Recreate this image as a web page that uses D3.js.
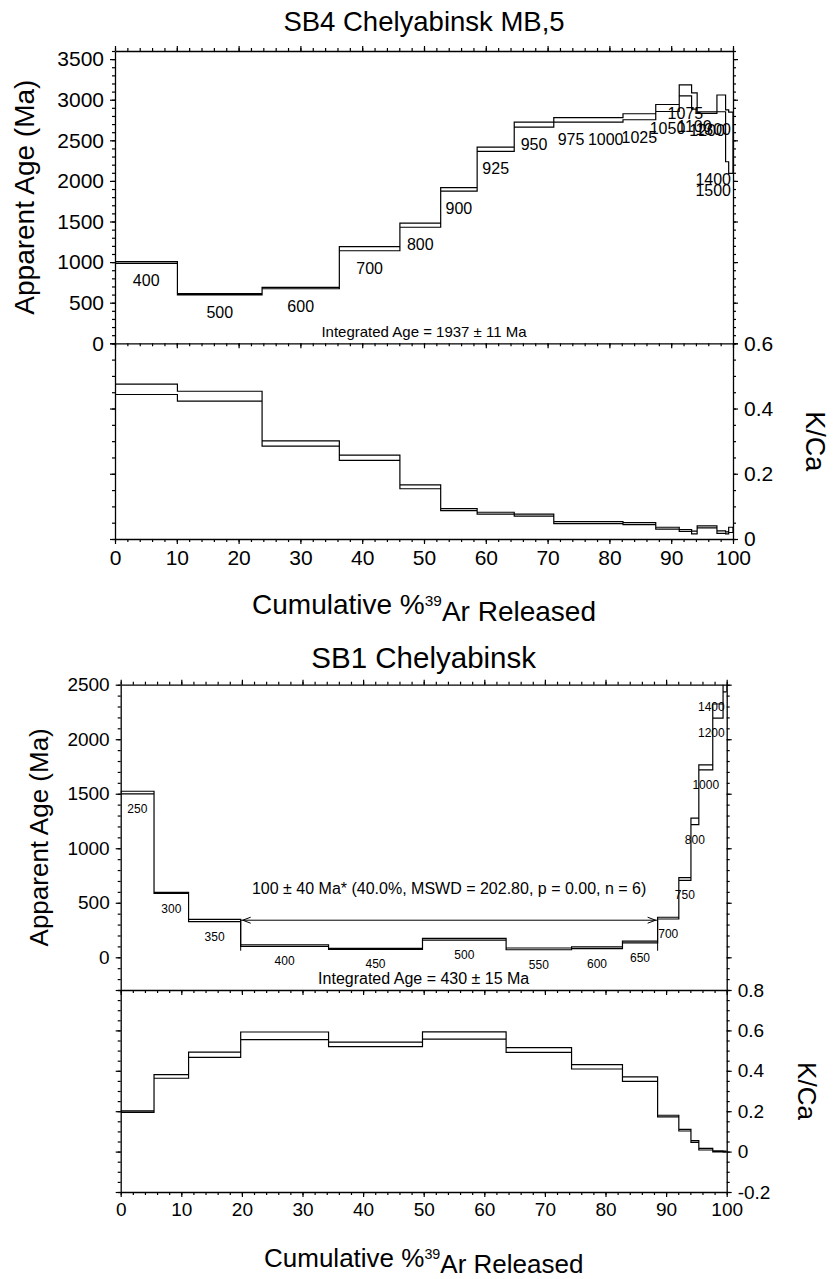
<!DOCTYPE html>
<html>
<head>
<meta charset="utf-8">
<script src="https://cdn.jsdelivr.net/npm/d3@7"></script>
<style>
  body { margin: 0; background: #fff; }
  svg { display: block; font-family: "Liberation Sans", Arial, Helvetica, sans-serif; }
</style>
</head>
<body>
<svg id="chart"></svg>
<script>
// SB4 Chelyabinsk MB,5 : step boundaries (cumulative % 39Ar), temperatures, ages, K/Ca
const sb4Cum = [0, 10.1, 23.8, 36.3, 46.1, 52.7, 58.6, 64.6, 71.0, 76.6, 82.2, 87.5, 91.3, 93.3, 94.2, 97.4, 98.8, 99.3, 100];
const sb4Temps = [400, 500, 600, 700, 800, 900, 925, 950, 975, 1000, 1025, 1050, 1075, 1100, 1200, 1300, 1400, 1500];
const sb4Age = [995, 605, 680, 1165, 1455, 1895, 2390, 2693, 2752, 2752, 2790, 2898, 3115, 2985, 2842, 2955, 2555, 2470];
const sb4AgeErr = [10, 8, 8, 25, 26, 22, 25, 30, 28, 28, 37, 43, 68, 100, 10, 103, 319, 376];
const sb4KCa = [0.459, 0.438, 0.293, 0.249, 0.160, 0.090, 0.079, 0.073, 0.050, 0.050, 0.047, 0.033, 0.026, 0.020, 0.037, 0.021, 0.019, 0.028];
const sb4KCaErr = [0.016, 0.015, 0.008, 0.008, 0.006, 0.003, 0.003, 0.003, 0.003, 0.003, 0.003, 0.003, 0.003, 0.004, 0.003, 0.004, 0.003, 0.008];
const sb4Integrated = 'Integrated Age = 1937 ± 11 Ma';

// SB1 Chelyabinsk
const sb1Cum = [0, 5.5, 11.2, 19.8, 34.3, 49.8, 63.6, 74.4, 82.8, 88.6, 92.1, 94.1, 95.4, 97.7, 99.4, 100];
const sb1Temps = [250, 300, 350, 400, 450, 500, 550, 600, 650, 700, 750, 800, 1000, 1200, 1400];
const sb1Age = [1511, 590, 337, 108, 77, 165, 77, 88, 141, 359, 718, 1246, 1742, 2258, 2530];
const sb1AgeErr = [12, 5, 10, 7, 5, 8, 8, 8, 8, 8, 12, 30, 23, 65, 95];
const sb1KCa = [0.198, 0.372, 0.479, 0.573, 0.531, 0.575, 0.503, 0.420, 0.359, 0.176, 0.106, 0.050, 0.012, 0.001, 0.000];
const sb1KCaErr = [0.004, 0.009, 0.013, 0.019, 0.011, 0.018, 0.012, 0.011, 0.011, 0.004, 0.004, 0.004, 0.004, 0.003, 0.003];
const sb1Integrated = 'Integrated Age = 430 ± 15 Ma';
// plateau: steps 400..650
const sb1Plateau = { from: 19.8, to: 88.6, level: 340, age: 100, err: 40,
  text: '100 ± 40 Ma* (40.0%, MSWD = 202.80, p = 0.00, n = 6)' };

const svg = d3.select('#chart').attr('width', 833).attr('height', 1279);
let clipId = 0;

function fmt(d) {
  return String(+d.toFixed(2));
}

function addAxis(g, axisFn, scale, pos, majors, minors, labelSize, showLabels) {
  const gMinor = g.append('g').attr('transform', pos)
    .call(axisFn(scale).tickValues(minors).tickSize(3).tickSizeOuter(0).tickFormat(''));
  gMinor.select('.domain').remove();
  const gMajor = g.append('g').attr('transform', pos)
    .call(axisFn(scale).tickValues(majors).tickSize(5).tickSizeOuter(0).tickPadding(6)
      .tickFormat(showLabels ? fmt : ''));
  [gMinor, gMajor].forEach((a) => {
    a.attr('font-size', null).attr('font-family', null);
    a.selectAll('line').attr('stroke', '#000').attr('stroke-width', 1.2);
    a.selectAll('path').attr('stroke', '#000').attr('stroke-width', 1.3);
  });
  gMajor.selectAll('text').attr('fill', '#000').style('font-size', labelSize + 'px');
}

function stepPath(cum, vals, errs, x, y) {
  const pts = [];
  vals.forEach((v, i) => {
    pts.push([cum[i], v + errs[i]], [cum[i + 1], v + errs[i]]);
  });
  for (let i = vals.length - 1; i >= 0; i--) {
    pts.push([cum[i + 1], vals[i] - errs[i]], [cum[i], vals[i] - errs[i]]);
  }
  return d3.line().x((d) => x(d[0])).y((d) => y(d[1]))(pts) + 'Z';
}

function drawSpectrum(cfg) {
  const g = svg.append('g');
  const x = d3.scaleLinear([0, 100], [cfg.left, cfg.right]);
  const yAge = d3.scaleLinear(cfg.ageDomain, [cfg.mid, cfg.top]);
  const yK = d3.scaleLinear(cfg.kcaDomain, [cfg.bottom, cfg.mid]);

  // clip regions
  const idA = 'clip' + (clipId++), idK = 'clip' + (clipId++);
  const defs = g.append('defs');
  defs.append('clipPath').attr('id', idA).append('rect')
    .attr('x', cfg.left).attr('y', cfg.top).attr('width', cfg.right - cfg.left).attr('height', cfg.mid - cfg.top);
  defs.append('clipPath').attr('id', idK).append('rect')
    .attr('x', cfg.left).attr('y', cfg.mid).attr('width', cfg.right - cfg.left).attr('height', cfg.bottom - cfg.mid);

  // spectra
  g.append('path').attr('clip-path', `url(#${idA})`)
    .attr('d', stepPath(cfg.cum, cfg.age, cfg.ageErr, x, yAge))
    .attr('fill', 'none').attr('stroke', '#000').attr('stroke-width', 1.2);
  g.append('path').attr('clip-path', `url(#${idK})`)
    .attr('d', stepPath(cfg.cum, cfg.kca, cfg.kcaErr, x, yK))
    .attr('fill', 'none').attr('stroke', '#000').attr('stroke-width', 1.2);

  // temperature labels under each step
  cfg.temps.forEach((t, i) => {
    const mid = (x(cfg.cum[i]) + x(cfg.cum[i + 1])) / 2;
    const txt = g.append('text')
      .attr('x', mid)
      .attr('y', yAge(cfg.age[i] - cfg.ageErr[i]) + cfg.stepLabelOffset)
      .attr('text-anchor', 'middle')
      .style('font-size', cfg.stepLabelSize + 'px')
      .attr('fill', '#000')
      .text(t);
    const w = txt.node().getComputedTextLength();
    if (mid + w / 2 > cfg.right - 2) txt.attr('x', cfg.right - 2 - w / 2);
  });

  // axes - x
  const xMaj = d3.range(0, 101, 10), xMin = d3.range(0, 101, 2);
  addAxis(g, d3.axisTop, x, `translate(0,${cfg.top})`, xMaj, xMin, cfg.tickSize, false);
  addAxis(g, d3.axisBottom, x, `translate(0,${cfg.mid})`, xMaj, xMin, cfg.tickSize, false);
  addAxis(g, d3.axisBottom, x, `translate(0,${cfg.bottom})`, xMaj, xMin, cfg.tickSize, true);
  // axes - age
  addAxis(g, d3.axisLeft, yAge, `translate(${cfg.left},0)`, cfg.ageMajors, cfg.ageMinors, cfg.tickSize, true);
  addAxis(g, d3.axisRight, yAge, `translate(${cfg.right},0)`, cfg.ageMajors, cfg.ageMinors, cfg.tickSize, false);
  // axes - K/Ca
  addAxis(g, d3.axisLeft, yK, `translate(${cfg.left},0)`, cfg.kcaMajors, cfg.kcaMinors, cfg.tickSize, false);
  addAxis(g, d3.axisRight, yK, `translate(${cfg.right},0)`, cfg.kcaMajors, cfg.kcaMinors, cfg.tickSize, true);

  // integrated age
  g.append('text')
    .attr('x', (cfg.left + cfg.right) / 2).attr('y', cfg.mid - 6)
    .attr('text-anchor', 'middle').style('font-size', cfg.integratedSize + 'px')
    .text(cfg.integrated);

  // plateau bracket
  if (cfg.plateau) {
    const p = cfg.plateau;
    const x0 = x(p.from), x1 = x(p.to), yl = yAge(p.level), yb = yAge(p.age - p.err);
    const pg = g.append('g').attr('fill', 'none').attr('stroke', '#000').attr('stroke-width', 1);
    pg.append('path').attr('d', `M${x0},${yb}V${yl}M${x1},${yb}V${yl}M${x0},${yl}H${x1}`);
    pg.append('path').attr('d', `M${x0 + 10},${yl - 3}L${x0 + 2},${yl}L${x0 + 10},${yl + 3}`);
    pg.append('path').attr('d', `M${x1 - 10},${yl - 3}L${x1 - 2},${yl}L${x1 - 10},${yl + 3}`);
    g.append('text')
      .attr('x', (x0 + x1) / 2).attr('y', yl - 26)
      .attr('text-anchor', 'middle').style('font-size', '16px')
      .text(p.text);
  }

  // titles
  g.append('text')
    .attr('x', (cfg.left + cfg.right) / 2).attr('y', cfg.titleY)
    .attr('text-anchor', 'middle').style('font-size', cfg.titleSize + 'px')
    .text(cfg.title);
  g.append('text')
    .attr('transform', `translate(${cfg.ageLabelX},${(cfg.top + cfg.mid) / 2}) rotate(-90)`)
    .attr('text-anchor', 'middle').style('font-size', cfg.axisTitleSize + 'px')
    .text('Apparent Age (Ma)');
  g.append('text')
    .attr('transform', `translate(${cfg.kcaLabelX},${(cfg.mid + cfg.bottom) / 2}) rotate(90)`)
    .attr('text-anchor', 'middle').style('font-size', cfg.kcaTitleSize + 'px')
    .text('K/Ca');
  const xt = g.append('text')
    .attr('x', (cfg.left + cfg.right) / 2).attr('y', cfg.xTitleY)
    .attr('text-anchor', 'middle').style('font-size', cfg.axisTitleSize + 'px');
  xt.append('tspan').text('Cumulative %');
  xt.append('tspan').attr('dy', '-0.55em').style('font-size', '0.55em').text('39');
  xt.append('tspan').attr('dy', '0.55em').text('Ar Released');
}

drawSpectrum({
  title: 'SB4 Chelyabinsk MB,5', titleY: 31, titleSize: 27.5,
  left: 115, right: 733, top: 51, mid: 343.3, bottom: 539,
  ageDomain: [0, 3600], ageMajors: d3.range(0, 3501, 500), ageMinors: d3.range(0, 3601, 100),
  kcaDomain: [0, 0.6], kcaMajors: [0, 0.2, 0.4, 0.6], kcaMinors: d3.range(0, 0.61, 0.05),
  cum: sb4Cum, temps: sb4Temps, age: sb4Age, ageErr: sb4AgeErr, kca: sb4KCa, kcaErr: sb4KCaErr,
  stepLabelSize: 16, stepLabelOffset: 23, tickSize: 21,
  integrated: sb4Integrated, integratedSize: 15,
  ageLabelX: 34, kcaLabelX: 806, axisTitleSize: 28, kcaTitleSize: 27, xTitleY: 614
});

drawSpectrum({
  title: 'SB1 Chelyabinsk', titleY: 668, titleSize: 29.5,
  left: 120.7, right: 726.7, top: 684.7, mid: 990, bottom: 1192,
  ageDomain: [-300, 2500], ageMajors: d3.range(0, 2501, 500), ageMinors: d3.range(-300, 2501, 100),
  kcaDomain: [-0.2, 0.8], kcaMajors: [-0.2, 0, 0.2, 0.4, 0.6, 0.8], kcaMinors: d3.range(-0.2, 0.81, 0.05),
  cum: sb1Cum, temps: sb1Temps, age: sb1Age, ageErr: sb1AgeErr, kca: sb1KCa, kcaErr: sb1KCaErr,
  stepLabelSize: 12, stepLabelOffset: 19, tickSize: 19,
  integrated: sb1Integrated, integratedSize: 16, plateau: sb1Plateau,
  ageLabelX: 48, kcaLabelX: 798, axisTitleSize: 26, kcaTitleSize: 26, xTitleY: 1267
});
</script>
</body>
</html>
